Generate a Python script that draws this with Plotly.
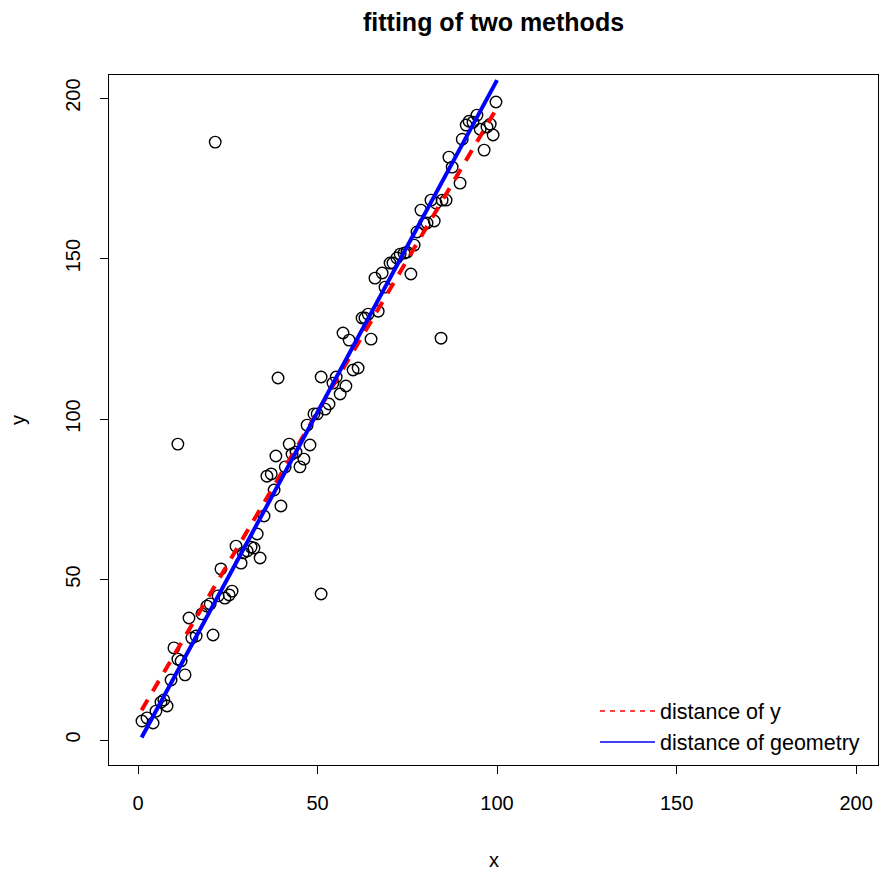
import plotly.graph_objects as go

# scatter data
x_pts = [1.1, 2.5, 4.2, 5.0, 6.4, 7.2, 8.1, 9.2, 10.0, 11.1, 12.0, 13.1, 14.2, 15.0, 16.2,
         17.8, 19.2, 20.1, 20.9, 22.3, 23.1, 24.2, 25.4, 26.2, 27.3, 28.7, 29.3, 30.4, 31.5,
         32.3, 33.2, 34.0, 35.1, 35.9, 37.1, 37.9, 38.4, 39.0, 39.8, 41.0, 42.1, 42.9, 44.0,
         45.1, 46.2, 47.1, 47.9, 49.0, 49.9, 51.0, 51.0, 52.1, 53.2, 54.3, 55.2, 56.3, 57.1,
         57.9, 58.8, 59.9, 61.3, 62.4, 63.2, 64.1, 64.9, 66.0, 66.9, 68.0, 68.8, 70.2, 71.0,
         72.1, 73.0, 74.1, 74.9, 76.0, 76.9, 77.7, 78.8, 79.7, 80.5, 81.6, 82.5, 83.0, 84.4,
         84.7, 85.8, 86.6, 87.5, 89.7, 90.3, 91.4, 92.2, 93.3, 94.4, 95.3, 96.4, 97.2, 98.1,
         98.9, 99.7, 11.1, 21.5]
y_pts = [5.9, 6.9, 5.3, 9.0, 11.8, 12.5, 10.6, 18.7, 28.7, 25.2, 24.6, 20.3, 38.0, 31.8, 32.4,
         39.3, 41.7, 42.4, 32.7, 44.9, 53.3, 44.2, 45.2, 46.4, 60.4, 55.1, 58.3, 58.9, 60.1,
         59.8, 64.2, 56.7, 69.8, 82.2, 82.9, 77.9, 88.5, 112.8, 72.9, 85.1, 92.2, 89.1, 89.7,
         85.1, 87.5, 98.1, 91.9, 101.6, 101.6, 113.1, 45.5, 103.1, 104.7, 111.2, 113.1, 107.8, 126.8,
         110.3, 124.6, 115.3, 115.9, 131.5, 131.5, 132.7, 124.9, 143.9, 133.6, 145.5, 141.1, 148.6, 148.6,
         150.2, 151.4, 151.7, 152.0, 145.2, 154.2, 158.3, 165.1, 160.8, 161.1, 168.2, 161.7, 167.3, 125.2,
         168.2, 168.2, 181.6, 178.5, 173.5, 187.2, 191.6, 192.8, 192.5, 194.7, 190.3, 183.8, 191.0, 191.9,
         188.5, 198.8, 92.2, 186.3]

# fitted lines: intercept, slope
fit_names = ["distance of y", "distance of geometry"]
fit_intercepts = [7.4, -1.3]
fit_slopes = [1.896, 2.069]
fit_colors = ["red", "blue"]
fit_dash = ["12px,10px", "solid"]
line_x_range = [1, 100]

tick_vals = [0, 50, 100, 150, 200]

FONT = "Liberation Sans, Arial, Helvetica, sans-serif"

fig = go.Figure()
fig.add_trace(go.Scatter(
    x=x_pts, y=y_pts, mode="markers", showlegend=False,
    marker=dict(symbol="circle-open", size=11.5, color="black", line=dict(width=1.4, color="black")),
))
for name, a, b, c, d in zip(fit_names, fit_intercepts, fit_slopes, fit_colors, fit_dash):
    xs = line_x_range
    ys = [a + b * v for v in xs]
    fig.add_trace(go.Scatter(x=xs, y=ys, mode="lines", showlegend=False,
                             line=dict(color=c, width=4, dash=d)))
# legend entries (thin lines as in the original legend)
for name, c, d in zip(fit_names, fit_colors, ["5px,5px", "solid"]):
    fig.add_trace(go.Scatter(x=[None], y=[None], mode="lines", name=name,
                             line=dict(color=c, width=1.5, dash=d)))

axis_common = dict(
    showline=True, mirror=True, linecolor="black", linewidth=1,
    ticks="outside", ticklen=8, tickcolor="black", tickwidth=1,
    showgrid=False, zeroline=False, tickvals=tick_vals,
    tickfont=dict(family=FONT, size=20, color="black"),
)
fig.update_xaxes(range=[-8.08, 206.1], ticklabelstandoff=12, **axis_common)
fig.update_yaxes(range=[-7.79, 207.2], tickangle=-90, ticklabelstandoff=12, **axis_common)

fig.update_layout(
    width=879, height=874,
    margin=dict(l=109, r=1, t=75, b=109),
    plot_bgcolor="white", paper_bgcolor="white",
    font=dict(family=FONT, color="black"),
    legend=dict(x=0.632, y=0.108, xanchor="left", yanchor="top",
                font=dict(family=FONT, size=21.5, color="black"),
                bgcolor="rgba(0,0,0,0)", itemwidth=55, tracegroupgap=0),
    annotations=[
        dict(text="<b>fitting of two methods</b>", xref="paper", yref="paper", x=0.5, y=1,
             yshift=53, showarrow=False, font=dict(family=FONT, size=25, color="black"),
             xanchor="center", yanchor="middle"),
        dict(text="x", xref="paper", yref="paper", x=0.5, y=0, yshift=-95, showarrow=False,
             font=dict(family=FONT, size=20, color="black"), xanchor="center", yanchor="middle"),
        dict(text="y", xref="paper", yref="paper", x=0, y=0.5, xshift=-91, showarrow=False,
             textangle=-90, font=dict(family=FONT, size=20, color="black"),
             xanchor="center", yanchor="middle"),
    ],
)

fig.write_html("out.html")
